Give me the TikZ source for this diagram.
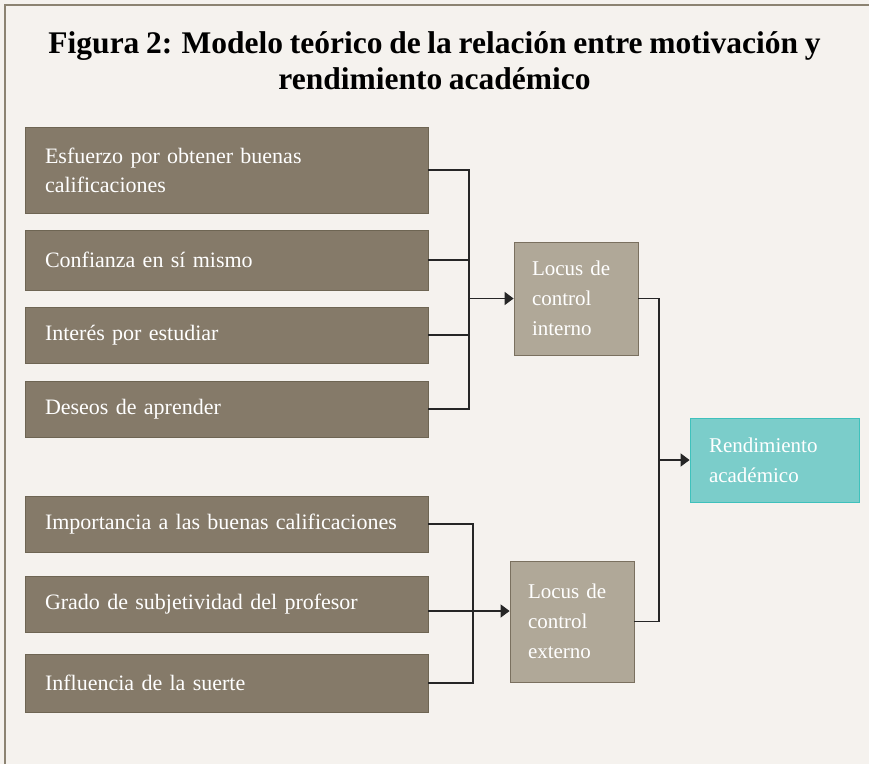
\documentclass[tikz,border=0pt]{standalone}
\usepackage{fontspec}
\setmainfont{Liberation Serif}[WordSpace=0.85]
\usetikzlibrary{arrows.meta}

\definecolor{fondo}{HTML}{F5F2EE}
\definecolor{marco}{HTML}{8C8372}
\definecolor{oscuro}{HTML}{857A69}
\definecolor{bordeoscuro}{HTML}{6E6553}
\definecolor{claro}{HTML}{B0A898}
\definecolor{bordeclaro}{HTML}{7A705F}
\definecolor{turquesa}{HTML}{7BCDCA}
\definecolor{bordeturquesa}{HTML}{3FC1BC}

\tikzset{
    factor/.style={draw=bordeoscuro, fill=oscuro, text=white, line width=0.8pt,
        minimum width=403pt, text width=363pt, inner xsep=20pt, align=left,
        font=\fontsize{22}{29}\selectfont},
    locus/.style={draw=bordeclaro, fill=claro, text=white, line width=0.8pt,
        minimum width=124pt, text width=88pt, inner xsep=18pt, align=left,
        font=\fontsize{21}{30}\selectfont},
    resultado/.style={draw=bordeturquesa, fill=turquesa, text=white, line width=0.8pt,
        minimum width=169pt, text width=131pt, inner xsep=19pt, align=left,
        font=\fontsize{21}{30}\selectfont},
    linea/.style={draw=black!85, line width=1.4pt},
    flecha/.style={-{Triangle[length=9pt,width=13pt]}}
}

\begin{document}
\begin{tikzpicture}[x=1pt,y=-1pt]
            \fill[fondo] (0,0) rectangle (869,764);
            \useasboundingbox (0,0) rectangle (869,764);
            \draw[marco, line width=2.5pt] (5,764) -- (5,5) -- (869,5);

            \node[font=\bfseries\fontsize{31.5}{36}\selectfont, align=center] (titulo) at (434.5,61)
                {Figura 2: Modelo teórico de la relación entre motivación y\\rendimiento académico};

            % factores de motivacion
            \node[factor, minimum height=86pt] (f1) at (226.5,170) {Esfuerzo por obtener buenas\\calificaciones};
            \node[factor, minimum height=60pt] (f2) at (226.5,260) {Confianza en sí mismo};
            \node[factor, minimum height=56pt] (f3) at (226.5,335) {Interés por estudiar};
            \node[factor, minimum height=56pt] (f4) at (226.5,409) {Deseos de aprender};
            \node[factor, minimum height=56pt] (f5) at (226.5,524) {Importancia a las buenas calificaciones};
            \node[factor, minimum height=56pt] (f6) at (226.5,604) {Grado de subjetividad del profesor};
            \node[factor, minimum height=58pt] (f7) at (226.5,683) {Influencia de la suerte};

            \node[locus, minimum height=113pt] (interno) at (576,298.5) {Locus de\\control\\interno};
            \node[locus, minimum height=121pt] (externo) at (572,621.5) {Locus de\\control\\externo};
            \node[resultado, minimum height=84pt] (rend) at (774.5,460) {Rendimiento\\académico};

            \coordinate (busA) at (469,0);
            \coordinate (busB) at (473,0);
            \coordinate (busC) at (659,0);
            \coordinate (salida) at (0,611);

            \draw[linea] (f1.east) -- (f1.east -| busA) -- (f4.east -| busA) -- (f4.east);
            \draw[linea] (f2.east) -- (f2.east -| busA);
            \draw[linea] (f3.east) -- (f3.east -| busA);
            \draw[linea, flecha] (interno.west -| busA) -- (interno.west);

            \draw[linea] (f5.east) -- (f5.east -| busB) -- (f7.east -| busB) -- (f7.east);
            \draw[linea, flecha] (f6.east |- salida) -- (externo.west |- salida);

            \draw[linea] (interno.east) -- (interno.east -| busC) -- (externo.east -| busC) -- (externo.east);
            \draw[linea, flecha] (rend.west -| busC) -- (rend.west);
        \end{tikzpicture}
\end{document}
